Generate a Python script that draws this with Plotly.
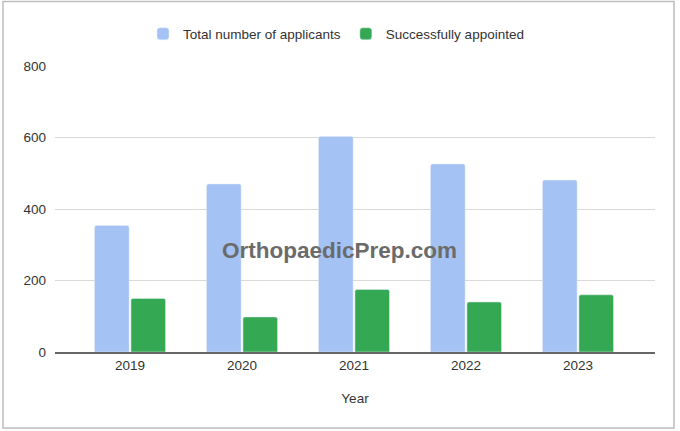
import plotly.graph_objects as go

years = ["2019", "2020", "2021", "2022", "2023"]
total_applicants = [354, 470, 603, 526, 481]
successfully_appointed = [150, 98, 175, 140, 160]

W, H = 680, 431
ml, mr, mt, mb = 55, 25, 66, 79
pw, ph = W - ml - mr, H - mt - mb

fig = go.Figure()
fig.add_trace(go.Bar(x=years, y=total_applicants, name="Total number of applicants",
                     marker=dict(color="#a4c2f4", cornerradius=2)))
fig.add_trace(go.Bar(x=years, y=successfully_appointed, name="Successfully appointed",
                     marker=dict(color="#34a853", cornerradius=2)))

fig.update_layout(
    width=W, height=H,
    margin=dict(l=ml, r=mr, t=mt, b=mb),
    paper_bgcolor="white", plot_bgcolor="white",
    font=dict(family="Liberation Sans, Arial, sans-serif", size=13.5, color="#444444"),
    barmode="group", bargap=0.35, bargroupgap=0.05,
    legend=dict(orientation="h", x=(355 - 19 - ml) / pw, xanchor="center", y=1 + 32/ph, yanchor="middle",
                font=dict(size=13.5, color="#333333"), itemwidth=30, traceorder="normal"),
    xaxis=dict(title=dict(text="Year", font=dict(size=13.5, color="#333333"), standoff=22),
               range=[-0.67, 4.6875],
               showgrid=False, showline=True, linecolor="#666666", linewidth=1.5,
               ticks="", tickfont=dict(size=13.5, color="#333333")),
    yaxis=dict(range=[0, 800], tickvals=[0, 200, 400, 600, 800], showgrid=True,
               gridcolor="#d9d9d9", gridwidth=1, zeroline=False, ticks="",
               tickfont=dict(size=13.5, color="#333333"), ticklabelstandoff=8),
    annotations=[dict(text="<b>OrthopaedicPrep.com</b>", xref="paper", yref="paper",
                      x=(339 - ml) / pw, y=(352 - 250) / ph, showarrow=False,
                      font=dict(size=22.5, color="#6b6b6b"))],
    shapes=[dict(type="rect", xref="paper", yref="paper",
                 x0=(3 - ml) / pw, x1=(674 - ml) / pw,
                 y0=-(428 - (H - mb)) / ph, y1=1 + (mt - 1.5) / ph,
                 line=dict(color="#bdbdbd", width=1.5), layer="below")],
)

fig.write_html("out.html", config={"displayModeBar": False},
               post_script="document.body.style.margin='0px';")
